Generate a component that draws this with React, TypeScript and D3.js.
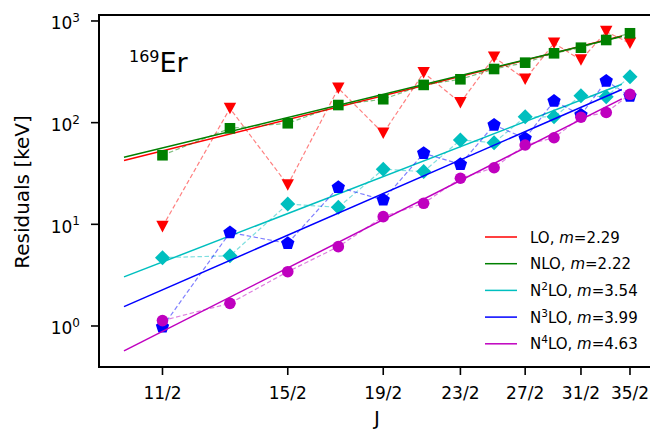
import React from "react";
import * as d3 from "d3";

const J = [5.5, 6.5, 7.5, 8.5, 9.5, 10.5, 11.5, 12.5, 13.5, 14.5, 15.5, 16.5, 17.5];
const tickValues = [5.5, 7.5, 9.5, 11.5, 13.5, 15.5, 17.5];
const tickLabels = ["11/2", "15/2", "19/2", "23/2", "27/2", "31/2", "35/2"];
const yTickExps = [0, 1, 2, 3];

const LO = [9.5, 138, 24.4, 218, 78.6, 310, 157, 440, 267, 604, 413, 785, 604];
const NLO = [47.8, 88, 98.6, 149, 170, 235, 267, 337, 389, 481, 546, 650, 757];
const N2LO = [4.7, 4.9, 15.8, 14.7, 34.8, 33, 67.5, 63.5, 114, 114, 184, 180, 283];
const N3LO = [0.98, 8.3, 6.5, 23.1, 17.4, 50, 38.9, 94.8, 70, 163, 119, 257, 182];
const N4LO = [1.13, 1.67, 3.42, 6.03, 11.9, 16.1, 28.4, 36, 60.3, 71, 113, 126, 190];

const seriesValues = [LO, NLO, N2LO, N3LO, N4LO];
const seriesPrefix = ["LO", "NLO", "N", "N", "N"];
const seriesSup = ["", "", "2", "3", "4"];
const seriesSuffix = ["", "", "LO", "LO", "LO"];
const slopes = [2.29, 2.22, 3.54, 3.99, 4.63];
const fitRef = 5; // J where fit amplitude is given
const fitAmp = [42.4, 45.7, 3.04, 1.55, 0.57];
const fitRange = [5, 17.15];
const colors = ["#ff0000", "#008000", "#00bfbf", "#0000ff", "#bf00bf"];
const markers = ["tri", "square", "diamond", "pentagon", "circle"];

const W = 650;
const H = 430;
const L = 99, R = 660, T = 15, B = 367;
const FONT = "DejaVu Sans, sans-serif";

function Marker({ type, cx, cy, color }: { type: string; cx: number; cy: number; color: string }) {
  if (type === "circle") return <circle cx={cx} cy={cy} r={5.8} fill={color} />;
  if (type === "square") return <rect x={cx - 5.3} y={cy - 5.3} width={10.6} height={10.6} fill={color} />;
  if (type === "diamond") {
    const r = 7.5;
    return <path d={`M${cx},${cy - r}L${cx + r},${cy}L${cx},${cy + r}L${cx - r},${cy}Z`} fill={color} />;
  }
  if (type === "tri") {
    const w = 6.2, h = 5.8;
    return <path d={`M${cx - w},${cy - h}L${cx + w},${cy - h}L${cx},${cy + h}Z`} fill={color} />;
  }
  // pentagon
  const r = 7.0;
  const pts = d3.range(5).map((i) => {
    const a = -Math.PI / 2 + (i * 2 * Math.PI) / 5;
    return [cx + r * Math.cos(a), cy + r * Math.sin(a)];
  });
  return <path d={"M" + pts.map((p) => p.join(",")).join("L") + "Z"} fill={color} />;
}

export default function App() {
  const x = d3.scaleLog().domain([4.7, 18.85]).range([L, R]);
  const y = d3.scaleLog().domain([0.395, 1145]).range([B, T]);

  const dataLine = d3
    .line<[number, number]>()
    .x((d) => x(d[0]))
    .y((d) => y(d[1]));

  const legendX = 485;
  const legendY0 = 237;
  const legendDy = 26.7;

  return (
    <svg
      width={W}
      height={H}
      style={{ position: "absolute", left: 0, top: 0, background: "#fff" }}
      fontFamily={FONT}
    >
      <defs>
        <clipPath id="plotclip">
          <rect x={L} y={T} width={R - L} height={B - T} />
        </clipPath>
      </defs>
      <rect x={0} y={0} width={W} height={H} fill="#fff" />

      <g clipPath="url(#plotclip)">
        {seriesValues.map((vals, si) => {
          const pts = J.map((j, i) => [j, vals[i]] as [number, number]);
          const fitPts = fitRange.map(
            (j) => [j, fitAmp[si] * Math.pow(j / fitRef, slopes[si])] as [number, number]
          );
          return (
            <g key={si}>
              <path
                d={dataLine(pts) || ""}
                fill="none"
                stroke={colors[si]}
                strokeOpacity={0.5}
                strokeWidth={1.2}
                strokeDasharray="4.5,2.5"
              />
              {pts.map((p, i) => (
                <Marker key={i} type={markers[si]} cx={x(p[0])} cy={y(p[1])} color={colors[si]} />
              ))}
              <path d={dataLine(fitPts) || ""} fill="none" stroke={colors[si]} strokeWidth={1.5} />
            </g>
          );
        })}
      </g>

      {/* frame */}
      <rect x={L} y={T} width={R - L} height={B - T} fill="none" stroke="#000" strokeWidth={2} />

      {/* x ticks */}
      {tickValues.map((v, i) => (
        <g key={i}>
          <line x1={x(v)} x2={x(v)} y1={B} y2={B + 8} stroke="#000" strokeWidth={1.6} />
          <text x={x(v)} y={399} fontSize={17} textAnchor="middle" fill="#000">
            {tickLabels[i]}
          </text>
        </g>
      ))}

      {/* y ticks */}
      {yTickExps.map((e) => {
        const yy = y(Math.pow(10, e));
        return (
          <g key={e}>
            <line x1={L - 8} x2={L} y1={yy} y2={yy} stroke="#000" strokeWidth={1.6} />
            <text x={80} y={yy + 8.5} fontSize={17} textAnchor="end" fill="#000">
              10
              <tspan fontSize={12} dy={-7.5}>
                {e}
              </tspan>
            </text>
          </g>
        );
      })}

      {/* axis labels */}
      <text x={377} y={425} fontSize={20} textAnchor="middle" fill="#000">
        J
      </text>
      <text
        transform={`translate(29,${192}) rotate(-90)`}
        fontSize={20}
        textAnchor="middle"
        fill="#000"
      >
        Residuals [keV]
      </text>

      {/* annotation */}
      <text x={129} y={72} fill="#000">
        <tspan fontSize={16} dy={-10}>169</tspan>
        <tspan fontSize={27} dy={10}>Er</tspan>
      </text>

      {/* legend */}
      {seriesValues.map((_, si) => {
        const ly = legendY0 + si * legendDy;
        return (
          <g key={si}>
            <line x1={legendX} x2={legendX + 32} y1={ly} y2={ly} stroke={colors[si]} strokeWidth={1.5} />
            <text x={530} y={ly + 5.5} fontSize={15} fill="#000">
              {seriesPrefix[si]}
              {seriesSup[si] ? (
                <>
                  <tspan fontSize={10.5} dy={-6}>
                    {seriesSup[si]}
                  </tspan>
                  <tspan dy={6}>{seriesSuffix[si]}</tspan>
                </>
              ) : null}
              {", "}
              <tspan fontStyle="italic">m</tspan>
              {"=" + slopes[si].toFixed(2)}
            </text>
          </g>
        );
      })}
    </svg>
  );
}
